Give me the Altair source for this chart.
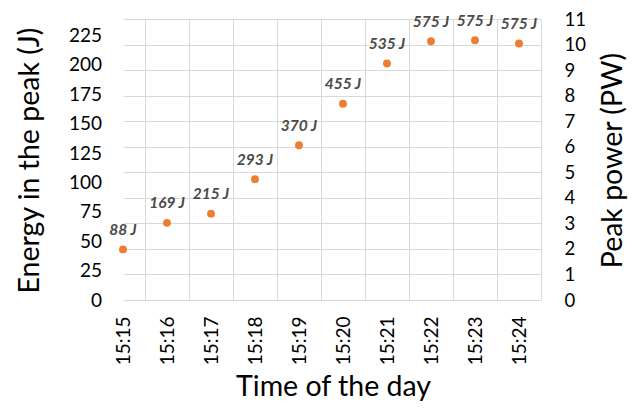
import altair as alt
import pandas as pd

times = ["15:15", "15:16", "15:17", "15:18", "15:19", "15:20", "15:21", "15:22", "15:23", "15:24"]
peak_power = [1.98, 3.02, 3.38, 4.73, 6.06, 7.68, 9.26, 10.13, 10.17, 10.04]
energy_j = [88, 169, 215, 293, 370, 455, 535, 575, 575, 575]
energy_ticks = [0, 25, 50, 75, 100, 125, 150, 175, 200, 225]
power_ticks = [0, 1, 2, 3, 4, 5, 6, 7, 8, 9, 10, 11]

df = pd.DataFrame({
    "idx": list(range(len(times))),
    "time": times,
    "power": peak_power,
    "label": [f"{e} J" for e in energy_j],
})

FONT = "Lato"
GRID = "#d9d9d9"
TITLE_SIZE = 28.5
x_dom = [0, len(times) - 0.5]
label_expr = "[" + ",".join(f"'{t}'" for t in times) + "][datum.value]"

xscale = alt.Scale(domain=x_dom, nice=False, zero=False)
yscale = alt.Scale(domain=[0, 11], nice=False)

points = alt.Chart(df).mark_circle(size=62, color="#ED7D31", opacity=1).encode(
    x=alt.X("idx:Q", scale=xscale,
            axis=alt.Axis(orient="bottom", values=list(range(len(times))), labelExpr=label_expr,
                          labelAngle=270, labelPadding=16, ticks=False, domain=False, grid=False,
                          labelFont=FONT, labelFontSize=19, labelColor="#000000",
                          title="Time of the day", titleFont=FONT, titleFontSize=TITLE_SIZE,
                          titleFontWeight="normal", titleColor="#000000",
                          titleBaseline="alphabetic", titleY=95, titleX=210)),
    y=alt.Y("power:Q", scale=yscale,
            axis=alt.Axis(orient="right", values=power_ticks, grid=True, gridColor=GRID, gridWidth=1,
                          ticks=False, domain=False, labelPadding=23,
                          labelFont=FONT, labelFontSize=18.5, labelColor="#000000",
                          title="Peak power (PW)", titleFont=FONT, titleFontSize=TITLE_SIZE,
                          titleFontWeight="normal", titleColor="#000000",
                          titleAngle=270, titleBaseline="middle", titleAlign="center",
                          titleX=71, titleY=141)),
)

labels = alt.Chart(df).mark_text(
    dy=-19.5, font=FONT, fontSize=15.5, fontWeight="bold", fontStyle="italic", color="#4a4a4a"
).encode(
    x=alt.X("idx:Q", scale=xscale,
            axis=alt.Axis(orient="top", values=[i + 0.5 for i in range(len(times))], grid=True,
                          gridColor=GRID, gridWidth=1, labels=False, ticks=False, domain=False,
                          title=None)),
    y=alt.Y("power:Q", scale=yscale, axis=None),
    text="label:N",
)

energy_axis = alt.Chart(pd.DataFrame({"e": energy_ticks})).mark_point(opacity=0).encode(
    y=alt.Y("e:Q", scale=alt.Scale(domain=[0, 239], nice=False),
            axis=alt.Axis(orient="left", values=energy_ticks, grid=False, ticks=False, domain=False,
                          labelPadding=21.5, labelFont=FONT, labelFontSize=19, labelColor="#000000",
                          title="Energy in the peak (J)", titleFont=FONT, titleFontSize=TITLE_SIZE,
                          titleFontWeight="normal", titleColor="#000000",
                          titleAngle=270, titleBaseline="middle", titleAlign="center",
                          titleX=-94, titleY=141)),
)

chart = alt.layer(energy_axis, labels, points).resolve_scale(
    x="independent", y="independent"
).resolve_axis(
    x="independent", y="independent"
).properties(
    width=418, height=281,
    padding={"left": 115, "top": 11, "right": 87, "bottom": 102},
    autosize=alt.AutoSizeParams(type="none"),
    background="white",
).configure_view(stroke=None)

chart.save("out.html", embed_options={"renderer": "svg", "actions": False})
